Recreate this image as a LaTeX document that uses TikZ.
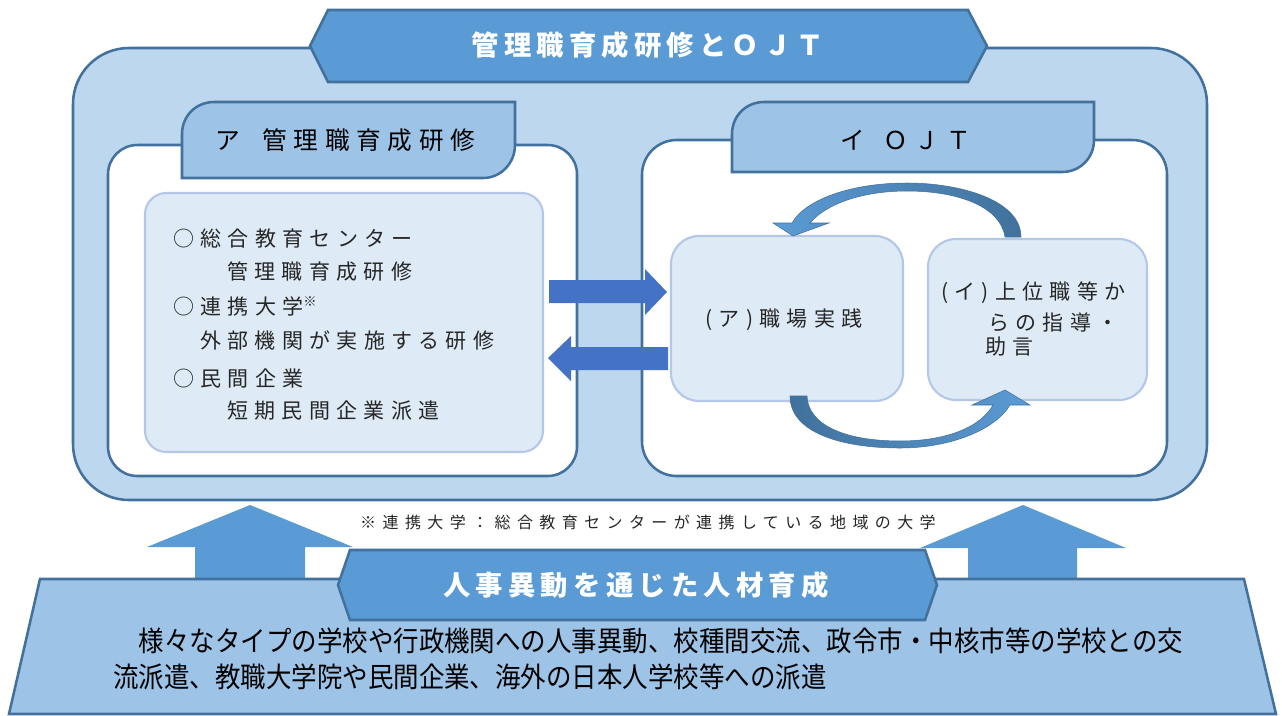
\documentclass[tikz,border=0pt]{standalone}
\usepackage{fontspec}
\setmainfont{Noto Sans CJK JP}
\newfontfamily\jpbox[LetterSpace=30]{Noto Sans CJK JP}
\newfontfamily\jptab[LetterSpace=27]{Noto Sans CJK JP}
\newfontfamily\jpban[LetterSpace=19]{Noto Sans CJK JP}
\newfontfamily\jpnote[LetterSpace=40]{Noto Sans CJK JP}
\newfontfamily\jpbody[FakeStretch=0.91]{Noto Sans CJK JP}
\usetikzlibrary{fit}
\definecolor{frameB}{HTML}{BDD7EE}
\definecolor{edgeC}{HTML}{41719C}
\definecolor{tabB}{HTML}{9DC3E6}
\definecolor{banB}{HTML}{5B9BD5}
\definecolor{boxB}{HTML}{DEEBF7}
\definecolor{boxE}{HTML}{B4C7E7}
\definecolor{arrB}{HTML}{4472C4}
\definecolor{txtC}{HTML}{262626}
\tikzset{
  panel/.style={inner sep=0pt, draw=edgeC, line width=1.9pt, fill=white},
  shapeedge/.style={draw=edgeC, line width=1.9pt},
  lightbox/.style={inner sep=0pt, draw=boxE, line width=1.6pt, fill=boxB, rounded corners=21pt},
  boxtxt/.style={inner sep=0pt, anchor=west, text=txtC, font=\jpbox\fontsize{15.75pt}{18pt}\selectfont},
  tabtxt/.style={inner sep=0pt, anchor=west, text=black, font=\jptab\fontsize{18.5pt}{20pt}\selectfont},
  bantxt/.style={inner sep=0pt, text=white, font=\jpban\bfseries\fontsize{20.5pt}{22pt}\selectfont},
  bodytxt/.style={inner sep=0pt, anchor=west, text=black, font=\jpbody\fontsize{21pt}{23pt}\selectfont},
  curvearrow/.style={draw=edgeC, line width=0.4pt},
}
\begin{document}
\begin{tikzpicture}[x=0.75pt,y=-0.75pt]
\useasboundingbox (0,0) rectangle (1282,715);
\fill[white] (0,0) rectangle (1282,715);

% outer frame
\node[fit={(73,48) (1207,500)}, inner sep=0pt, draw=edgeC, line width=1.9pt, fill=frameB, rounded corners=42pt] (outer) {};

% top banner
\path[shapeedge, fill=banB] (310,46) -- (328,10) -- (968,10) -- (987,46) -- (968,82) -- (328,82) -- cycle;
\node[bantxt] (toptitle) at (648,45) {管理職育成研修とＯＪＴ};

% left panel
\node[panel, fit={(108,145) (577,476)}, rounded corners=22pt] (lpanel) {};
\path[shapeedge, fill=tabB] (182,178) -- (182,134) .. controls (182,116) and (196,102) .. (214,102) -- (515,102) -- (515,145) .. controls (515,163) and (501,178) .. (483,178) -- cycle;
\node[tabtxt] (ltab) at (215,140) {ア\hspace{17pt}管理職育成研修};
\node[lightbox, fit={(145,193) (543,452)}, rounded corners=16pt] (lbox) {};

% right panel
\node[panel, fit={(642,140) (1167,476)}, rounded corners=26pt] (rpanel) {};
\path[shapeedge, fill=tabB] (732,172) -- (732,134) .. controls (732,116) and (746,102) .. (764,102) -- (1094,102) -- (1094,140) .. controls (1094,158) and (1080,172) .. (1062,172) -- cycle;
\node[tabtxt] (rtab) at (840,140) {イ\hspace{14pt}ＯＪＴ};

\node[lightbox, fit={(671,236) (903,401)}] (boxA) {};
\node[lightbox, fit={(928,239) (1147,400)}] (boxB) {};

% straight block arrows
\fill[arrB] (549,280) -- (645,280) -- (645,269) -- (667,292) -- (645,315) -- (645,303) -- (549,303) -- cycle;
\fill[arrB] (668,347) -- (571,347) -- (571,336) -- (548,358) -- (571,381) -- (571,370) -- (668,370) -- cycle;

% curved arrows
\path[curvearrow, left color=banB, right color=edgeC]
  (1021,237) .. controls (1021,200) and (960,183) .. (907,183)
  .. controls (850,183) and (805,200) .. (792,223)
  -- (773,223) -- (793,236) -- (829,223) -- (810,223)
  .. controls (825,205) and (860,191) .. (907,191)
  .. controls (955,191) and (1000,205) .. (1005,237) -- cycle;
\path[curvearrow, left color=edgeC, right color=banB]
  (790,396) .. controls (790,432) and (840,448) .. (900,448)
  .. controls (950,448) and (995,430) .. (1010,405)
  -- (1030,405) -- (1005,390) -- (972,405) -- (993,405)
  .. controls (980,428) and (945,441) .. (900,441)
  .. controls (845,441) and (808,425) .. (807,396) -- cycle;

% box texts
\node[boxtxt] (l1) at (173,239) {○総合教育センター};
\node[boxtxt] (l2) at (227,272) {管理職育成研修};
\node[boxtxt] (l3) at (173,306) {○連携大学\raisebox{6pt}{\fontsize{10pt}{10pt}\selectfont ※}};
\node[boxtxt] (l4) at (200,340) {外部機関が実施する研修};
\node[boxtxt] (l5) at (173,378) {○民間企業};
\node[boxtxt] (l6) at (227,411) {短期民間企業派遣};

\node[boxtxt, anchor=center] (ta) at (784,320) {(ア)職場実践};
\node[boxtxt] (tb1) at (941,293) {(イ)上位職等か};
\node[boxtxt] (tb2) at (988,322) {らの指導・};
\node[boxtxt] (tb3) at (985,347) {助言};

% footnote
\node[inner sep=0pt, text=txtC, font=\jpnote\fontsize{12pt}{14pt}\selectfont] (note) at (648,522) {※連携大学：総合教育センターが連携している地域の大学};

% up arrows
\fill[banB] (195,579) -- (195,547) -- (147,547) -- (250,505) -- (353,547) -- (305,547) -- (305,579) -- cycle;
\fill[banB] (968,580) -- (968,548) -- (920,548) -- (1023,505) -- (1126,548) -- (1077,548) -- (1077,580) -- cycle;

% bottom trapezoid
\path[shapeedge, fill=tabB] (40,579) -- (1244,579) -- (1276,714) -- (9,714) -- cycle;
\path[shapeedge, fill=banB] (338,585) -- (350,550) -- (925,550) -- (937,585) -- (925,620) -- (350,620) -- cycle;
\node[bantxt] (bottitle) at (636,585) {人事異動を通じた人材育成};

\node[bodytxt] (b1) at (113,641) {　様々なタイプの学校や行政機関への人事異動、校種間交流、政令市・中核市等の学校との交};
\node[bodytxt] (b2) at (113,677) {流派遣、教職大学院や民間企業、海外の日本人学校等への派遣};
\end{tikzpicture}
\end{document}
